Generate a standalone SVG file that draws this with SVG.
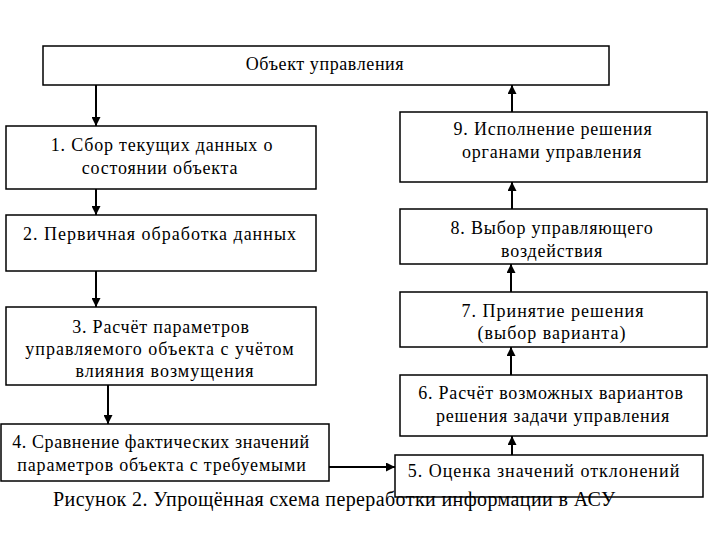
<svg xmlns="http://www.w3.org/2000/svg" width="720" height="540" viewBox="0 0 720 540" font-family="'Liberation Serif', 'Times New Roman', serif">
<style>
.box{fill:#fff;stroke:#000;stroke-width:1.5}
.lbl{font-family:'Liberation Serif','Times New Roman',serif;font-size:18px;text-anchor:middle;fill:#000}
.cap{font-family:'Liberation Serif','Times New Roman',serif;font-size:20px;fill:#000}
.ln{stroke:#000;stroke-width:2;fill:none;marker-end:url(#ah)}
</style>
<defs>
<marker id="ah" viewBox="0 0 10 10" refX="10" refY="5" markerWidth="5" markerHeight="4.5" markerUnits="strokeWidth" orient="auto">
<path d="M0,0 L10,5 L0,10 z" fill="#000"/>
</marker>
</defs>
<rect width="720" height="540" fill="#fff"/>
<g id="connectors">
<line class="ln" x1="96" y1="85" x2="96" y2="126"/>
<line class="ln" x1="96" y1="189" x2="96" y2="215"/>
<line class="ln" x1="96" y1="271" x2="96" y2="307"/>
<line class="ln" x1="108" y1="385" x2="108" y2="424"/>
<line class="ln" x1="329" y1="467" x2="395" y2="467"/>
<line class="ln" x1="512" y1="455" x2="512" y2="436"/>
<line class="ln" x1="511" y1="375" x2="511" y2="347"/>
<line class="ln" x1="511" y1="292" x2="511" y2="264"/>
<line class="ln" x1="512" y1="209" x2="512" y2="182"/>
<line class="ln" x1="512" y1="112" x2="512" y2="85"/>
</g>
<g id="node-top">
<rect class="box" x="43" y="46" width="566" height="39"/>
<text class="lbl" x="325" y="70" letter-spacing="0.6">Объект управления</text>
</g>
<g id="node-1">
<rect class="box" x="6" y="126" width="310" height="63"/>
<text class="lbl" x="162" y="151" letter-spacing="0.8">1. Сбор текущих данных о</text>
<text class="lbl" x="160" y="174" letter-spacing="0.8">состоянии объекта</text>
</g>
<g id="node-2">
<rect class="box" x="6" y="215" width="310" height="56"/>
<text class="lbl" x="160" y="240" letter-spacing="1">2. Первичная обработка данных</text>
</g>
<g id="node-3">
<rect class="box" x="6" y="307" width="310" height="78"/>
<text class="lbl" x="161" y="333" letter-spacing="0.8">3. Расчёт параметров</text>
<text class="lbl" x="160" y="355" letter-spacing="1">управляемого объекта с учётом</text>
<text class="lbl" x="165" y="377" letter-spacing="1">влияния возмущения</text>
</g>
<g id="node-4">
<rect class="box" x="1" y="424" width="328" height="57"/>
<text class="lbl" x="161" y="448" letter-spacing="0.6">4. Сравнение фактических значений</text>
<text class="lbl" x="162" y="471" letter-spacing="0.8">параметров объекта с требуемыми</text>
</g>
<g id="node-5">
<rect class="box" x="395" y="455" width="308" height="42"/>
<text class="lbl" x="544" y="477" letter-spacing="1">5. Оценка значений отклонений</text>
</g>
<g id="node-6">
<rect class="box" x="400" y="375" width="307" height="61"/>
<text class="lbl" x="551" y="399" letter-spacing="0.8">6. Расчёт возможных вариантов</text>
<text class="lbl" x="553" y="422" letter-spacing="0.8">решения задачи управления</text>
</g>
<g id="node-7">
<rect class="box" x="400" y="292" width="307" height="55"/>
<text class="lbl" x="553" y="317" letter-spacing="1">7. Принятие решения</text>
<text class="lbl" x="552" y="339" letter-spacing="1">(выбор варианта)</text>
</g>
<g id="node-8">
<rect class="box" x="400" y="209" width="307" height="55"/>
<text class="lbl" x="552" y="234" letter-spacing="0.8">8. Выбор управляющего</text>
<text class="lbl" x="552" y="257" letter-spacing="0.8">воздействия</text>
</g>
<g id="node-9">
<rect class="box" x="400" y="112" width="307" height="70"/>
<text class="lbl" x="553" y="135" letter-spacing="0.8">9. Исполнение решения</text>
<text class="lbl" x="552" y="158" letter-spacing="0.8">органами управления</text>
</g>
<text class="cap" x="53" y="506" letter-spacing="0.4">Рисунок 2. Упрощённая схема переработки информации в АСУ</text>
</svg>
